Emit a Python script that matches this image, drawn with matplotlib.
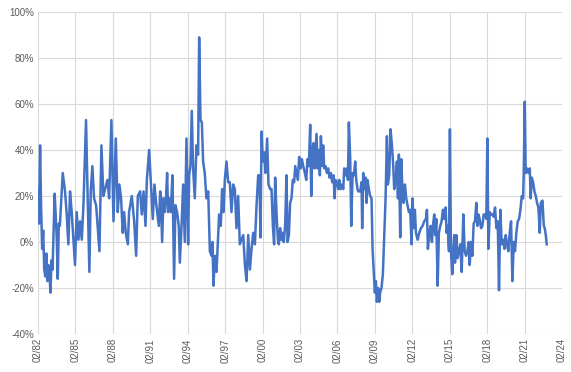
import matplotlib
matplotlib.use("Agg")
import matplotlib.pyplot as plt
from matplotlib.ticker import FuncFormatter

# months since Feb 1982 (%)
t_months = [
    0, 1, 2, 3, 4, 5, 6, 7, 8, 9, 10, 11, 12, 13, 14, 15, 16, 17, 18, 19, 20, 21, 22, 23.8,
    26, 27.6, 29.2, 30.8, 32.4, 35.6, 37.2, 38.9, 40.5, 42.1, 43.7, 46.2, 47.5, 49.4, 50.7,
    52.3, 53.9, 55.9, 59.1, 61, 62.9, 64.5, 66.8, 68.4, 70.6, 72.6, 74.8, 76.7, 78.3, 79.9,
    81.5, 82.8, 84.4, 86.4, 87.6, 90.2, 92.5, 94.4, 96, 98.2, 99.8, 101.5, 103.4, 104.7,
    106.9, 108.5, 110.4, 112, 113.6, 116.2, 117.5,
    118.1, 119.4, 120.6, 121.9, 123.2, 124.2, 125.1, 126.4, 127.7, 129.3, 130.9, 132.2,
    133.8, 135.4, 136.4, 138, 139.6, 141.2, 142.8, 144.4, 145.4, 146.6, 147.9, 149.2,
    150.8, 152.4, 154, 155, 156.3, 157.6, 158.8, 160.4, 162, 163.7, 165.3, 166.9, 167.8,
    168.8, 170.1, 171.7, 172.6, 174.2, 175.8, 177.1, 178.4, 179.7, 181.3, 182.9, 184.5,
    186.1, 187.7, 189.3, 190.9, 192.5, 194.1, 195.8, 197.4, 199, 200.6, 202.2, 203.8,
    205.4, 207, 208.6, 210.2, 211.8,
    213, 214, 215, 216.2, 217.5, 218.8, 220.4, 221.7, 223.3, 224.6, 225.9, 227.1, 228.1,
    229.4, 230.7, 231.6, 232.9, 233.9, 235.2, 236.4, 237.7, 239, 240, 241.3, 242.5, 243.8,
    245.1, 246.4, 247.4, 248.6, 249.9, 251.2, 252.5, 253.8, 255.1, 256.7, 258, 259.2,
    260.5, 261.8, 262.8, 263.7, 265, 266, 266.9, 267.9, 268.9, 270.1, 271.1, 272.1, 273.4,
    274.3, 275.3, 276.6, 277.9, 279.1, 280.4, 281.7, 283, 284.3, 285.2, 286.2, 287.5,
    288.8, 289.7, 291, 292.3, 293.6, 294.5, 295.8, 297.1, 298.1, 299, 300.3, 301.3, 302.6,
    303.9, 305.1, 306.1,
    307.3, 308, 309.9, 311.2, 311.8, 312.8, 314.1, 315, 316, 316.9, 318.2, 319.5, 320.8,
    321.8, 323, 324, 325, 325.9, 327.2, 328.2, 329.1, 330.4, 331.7, 333, 334.3, 335.6,
    336.5, 337.8, 339.1, 340.4, 341.7, 342.6, 343.9, 345.2, 346.2, 347.1, 348.4, 349.4,
    350.6, 351.6, 352.9, 354.2, 355.5, 356.7, 358, 359.3, 360.3, 361.2, 362.5, 363.5,
    365.1, 366.7, 368.3, 369.9, 371.5, 373.1, 374.1, 375, 376.3, 377.6, 378.9, 379.9,
    381.1, 382.1, 383.1, 384.4, 385.6, 386.9, 388.2, 389.5, 390.8, 392.1, 393, 394, 395.3,
    396.2, 397.2, 398.5, 399.4, 400.4,
    401.1, 402.4, 403.6, 404.9, 406.2, 407.5, 409.1, 410.4, 411.7, 413, 414.2, 415.2,
    416.5, 417.8, 419, 420.3, 421.6, 422.6, 423.5, 424.8, 426.1, 427.4, 428.7, 430, 431.2,
    432.2, 433.2, 434.5, 435.7, 437, 438.3, 439.6, 440.9, 442.2, 443.4, 444.7, 446, 447.3,
    448.6, 449.9, 451.1, 452.4, 453.7, 455, 456.3, 457.6, 458.8, 460.1, 461.4, 462.7, 464,
    465.3, 466.6, 467.2, 468.2, 469.1, 470.4, 471.7, 473, 473.9, 474.9, 476.2, 477.5,
    478.8, 480, 481.3, 482.6, 483.6, 485.2, 486.5, 487.4, 488.4, 489.3,
]
values = [
    23, 8, 42, 15, -3, 5, -12, -15, -5, -17, -10, -14, -22, -8, -12, 5, 21, 12, 2, -16, 8, 7, 15, 30,
    22, 12, -1, 22, 13, -10, 13, 1, 9, 1, 16, 53, 25, -13, 22,
    33, 19, 16, -4, 42, 20, 23, 27, 19, 53, 9, 45, 13, 25, 19,
    4, 13, 4, -1, 13, 20, 9, -6, 20, 22, 12, 22, 7, 27,
    40, 26, 10, 25, 17, 7, 22,
    20, 0, 19, 13, 20, 30, 13, 19, 13, 29, -16, 16,
    13, 7, -9, 6, 25, 0, 45, -1, 29, 33, 57, 32,
    19, 42, 38, 89, 53, 52, 35, 30, 19, 22, -4, -6, 0,
    -19, -6, -13, -4, 12, 7, 23, 13, 27, 35, 26, 26,
    13, 25, 23, 6, 20, -1, 1, 3, -10, -17, 3, -12,
    -3, 4, -1, 16, 29,
    29, 2, 48, 35, 39, 30, 45, 25, 23, 23, 7, -1, 28,
    13, 1, -1, 6, 1, 4, 0, 7, 29, 0, 3, 17, 19,
    27, 26, 33, 30, 27, 37, 32, 36, 33, 30, 27, 36,
    33, 51, 20, 39, 43, 32, 39, 47, 32, 40, 29, 46, 33,
    42, 32, 33, 30, 32, 28, 30, 26, 29, 19, 27, 26,
    23, 27, 23, 25, 23, 32, 29, 32, 27, 52, 36, 7, 30,
    29, 35, 27,
    23, 22, 22, 26, 6, 30, 23, 28, 17, 27, 23, 20, 19,
    -3, -13, -22, -17, -26, -20, -26, -22, -20, -14, 3, 19, 46,
    25, 29, 49, 42, 33, 23, 26, 35, 19, 38, 2, 36,
    22, 17, 25, 19, 16, 13, 14, -1, 19, 6, 14, 4,
    1, 4, 6, 7, 9, 10, 14, -3, 3, 7, 0, 7,
    12, 3, 10, -19, 4, 7, 9, 14, 10, 15, 4, 7, -4,
    49, -4, -14, -4, 3,
    -9, 3, -7, -4, -1, -13, 12, -4, -6, -4, 0, -10,
    0, -6, 8, 9, 17, 7, 12, 10, 6, 7, 12, 12, 10,
    45, -3, 13, 12, 12, 11, 15, 6, 9, -21, 14, -1, 1,
    -3, 3, -1, -4, 4, 9, -17, 0, -4, 4, 9, 10, 14,
    20, 19, 30, 61, 30, 32, 30, 32, 19, 28, 26, 22,
    20, 17, 15, 4, 17, 18, 7, 6, 3, -1,
]

tick_months = list(range(0, 505, 36))
tick_labels = ["02/82", "02/85", "02/88", "02/91", "02/94", "02/97", "02/00", "02/03",
               "02/06", "02/09", "02/12", "02/15", "02/18", "02/21", "02/24"]
y_ticks = [-40, -20, 0, 20, 40, 60, 80, 100]

plt.rcParams['font.family'] = ['Liberation Sans', 'DejaVu Sans']

fig = plt.figure(figsize=(5.71, 3.72), dpi=100)
ax = fig.add_axes([38 / 571, 1 - 334 / 372, (562 - 38) / 571, (334 - 12) / 372])

ax.plot(t_months, values, color='#4472C4', lw=1.8, solid_joinstyle='round')

ax.set_xlim(0, 504)
ax.set_ylim(-40, 100)
ax.set_xticks(tick_months)
ax.set_xticklabels(tick_labels, rotation=90)
ax.set_yticks(y_ticks)
ax.yaxis.set_major_formatter(FuncFormatter(lambda v, _: f"{v:.0f}%"))

ax.grid(True, color='#D9D9D9', lw=0.8)
ax.set_axisbelow(True)
for s in ax.spines.values():
    s.set_visible(False)
ax.tick_params(length=0, labelsize=7, colors='#595959', pad=3)

fig.savefig("out.png", dpi=100)
